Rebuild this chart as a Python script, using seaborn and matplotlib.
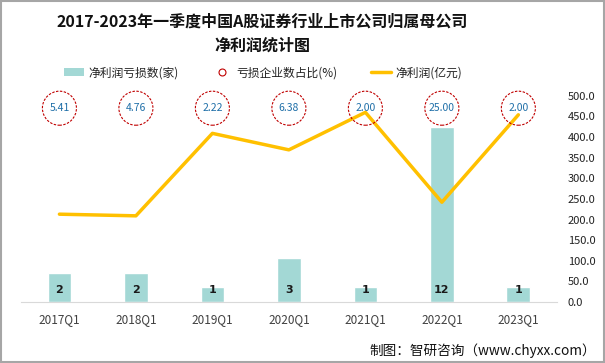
import matplotlib
matplotlib.use('Agg')
import matplotlib.pyplot as plt
import matplotlib.transforms as mtransforms
from matplotlib.patches import Rectangle, Patch
from matplotlib.lines import Line2D
import pandas as pd
import seaborn as sns

quarters = ['2017Q1', '2018Q1', '2019Q1', '2020Q1', '2021Q1', '2022Q1', '2023Q1']
loss_count = [2, 2, 1, 3, 1, 12, 1]
loss_ratio = ['5.41', '4.76', '2.22', '6.38', '2.00', '25.00', '2.00']
net_profit = [213, 209, 409, 369, 460, 242, 454]

df = pd.DataFrame({'quarter': quarters, 'count': loss_count, 'profit': net_profit})

sns.set_style('white')
plt.rcParams['font.family'] = ['Noto Sans CJK SC', 'DejaVu Sans']
plt.rcParams['axes.unicode_minus'] = False

bar_color = '#A3D8D5'
line_color = '#FFC000'
circle_color = '#C00000'

fig = plt.figure(figsize=(6.05, 3.63), dpi=100)
ax = fig.add_axes([0.035, 0.168, 0.885, 0.568])
ax2 = ax.twinx()

sns.barplot(data=df, x='quarter', y='count', color=bar_color, width=0.31,
            saturation=1, ax=ax, zorder=1)
ax.set_ylim(0, 14.1)
ax.set_xlim(-0.5, 6.5)
for i, v in enumerate(loss_count):
    ax.text(i, 0.85, str(v), ha='center', va='center', fontsize=8,
            fontweight='bold', color='#1a1a1a', family='DejaVu Sans')

sns.lineplot(data=df, x='quarter', y='profit', color=line_color, linewidth=2.5,
             sort=False, ax=ax2, zorder=3)
ax2.set_ylim(0, 500)
ax2.set_yticks(range(0, 501, 50))
ax2.set_yticklabels([f'{t:.1f}' for t in range(0, 501, 50)], fontsize=8, color='#222222')

# circles with loss ratio, placed at a fixed height above the plot
trans = mtransforms.blended_transform_factory(ax2.transData, ax2.transAxes)
for i, r in enumerate(loss_ratio):
    ax2.scatter(i, 0.94, s=600, facecolor='none', edgecolor=circle_color,
                linestyle=(0, (2.2, 1.3)), linewidth=0.8, transform=trans,
                clip_on=False, zorder=4)
    ax2.text(i, 0.94, r, ha='center', va='center', fontsize=7.5,
             color='#1F6FA8', transform=trans, zorder=5)

for a in (ax, ax2):
    for s in a.spines.values():
        s.set_visible(False)
    a.set_xlabel('')
    a.set_ylabel('')
ax.spines['bottom'].set_visible(True)
ax.spines['bottom'].set_color('#D9D9D9')
ax.set_yticks([])
ax.tick_params(axis='x', length=0, pad=8, labelsize=8.5, labelcolor='#404040')
ax2.tick_params(axis='y', length=0, pad=8)

fig.text(0.433, 0.94, '2017-2023年一季度中国A股证券行业上市公司归属母公司',
         ha='center', va='center', fontsize=11.5, fontweight='bold', color='#111111')
fig.text(0.433, 0.875, '净利润统计图', ha='center', va='center', fontsize=11.5,
         fontweight='bold', color='#111111')

handles = [Patch(facecolor=bar_color, edgecolor='none'),
           Line2D([], [], marker='o', linestyle='none', markerfacecolor='none',
                  markeredgecolor=circle_color, markersize=5, markeredgewidth=0.8),
           Line2D([], [], color=line_color, linewidth=2.5)]
labels = ['净利润亏损数(家)', '亏损企业数占比(%)', '净利润(亿元)']
fig.legend(handles, labels, loc='center', bbox_to_anchor=(0.435, 0.8), ncol=3,
           frameon=False, fontsize=8.5, columnspacing=2.8, handlelength=1.7,
           handletextpad=0.4, labelcolor='#222222')

fig.text(0.985, 0.035, '制图：智研咨询（www.chyxx.com）', ha='right', va='center',
         fontsize=9.8, color='#111111')

fig.patches.append(Rectangle((0.002, 0.003), 0.996, 0.994, transform=fig.transFigure,
                             fill=False, edgecolor='#A6A6A6', linewidth=1.5))

fig.savefig('out.png', dpi=100)
